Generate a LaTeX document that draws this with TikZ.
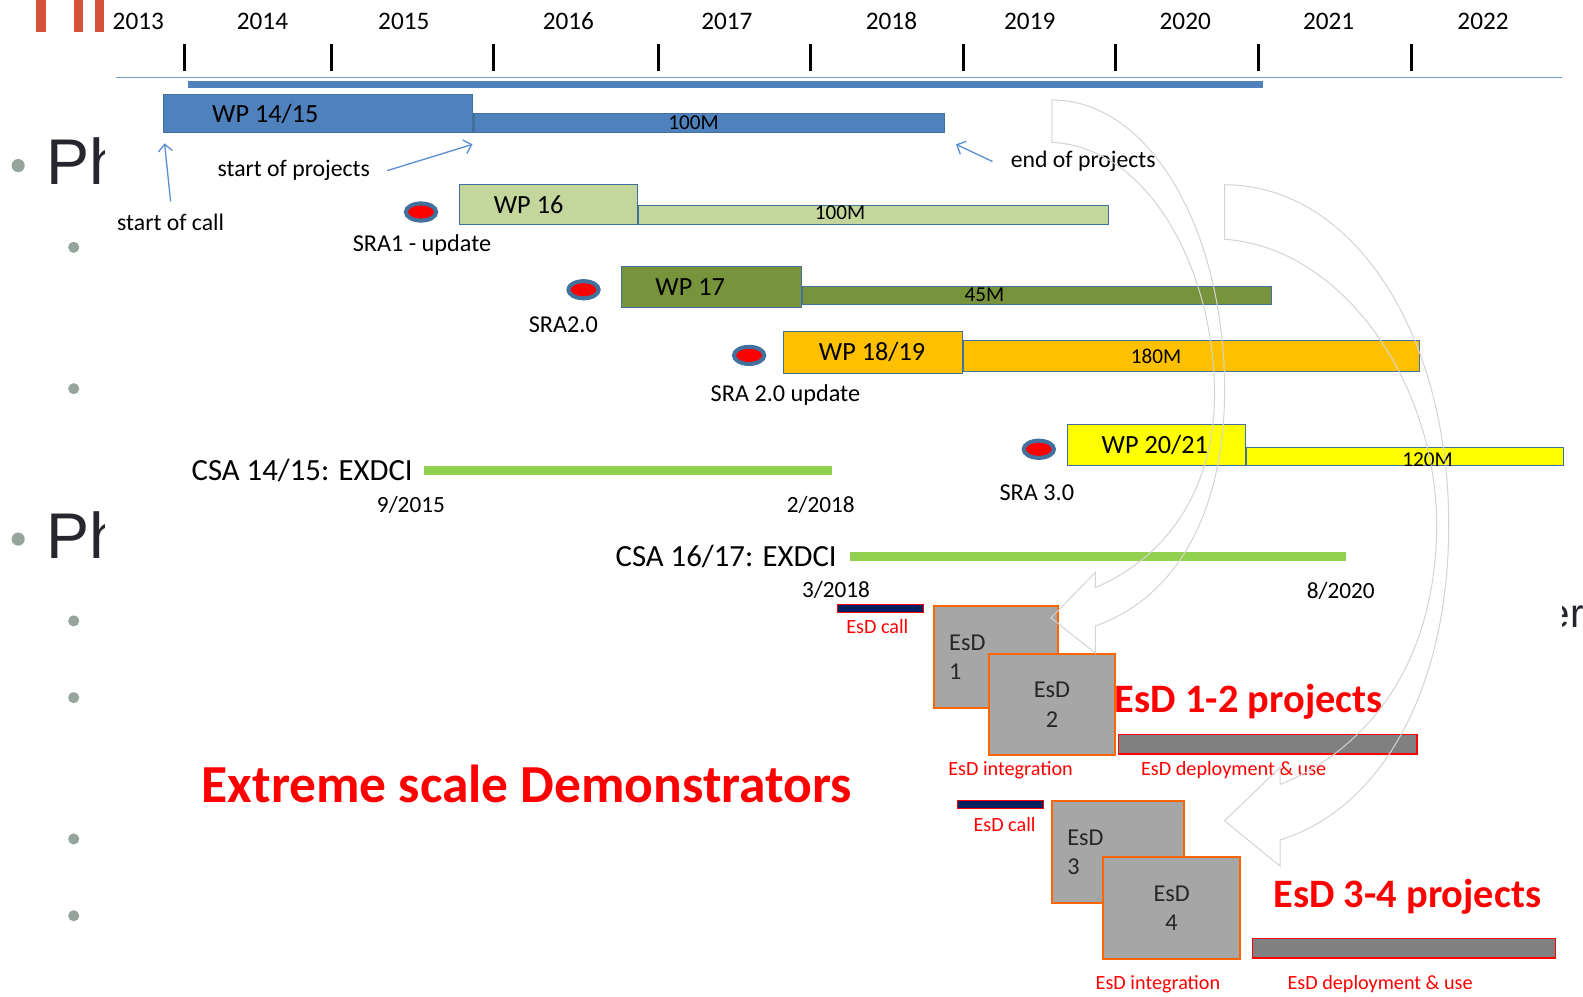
\documentclass[tikz,border=0pt]{standalone}
\usepackage{fontspec}
\setmainfont{Carlito}
\newfontfamily\slidefont{Liberation Sans}
\usetikzlibrary{arrows.meta,positioning,shapes.geometric}
\definecolor{wpblue}{HTML}{4F81BD}
\definecolor{wpedge}{HTML}{41719C}
\definecolor{wplime}{HTML}{C3D69B}
\definecolor{wpolive}{HTML}{77933C}
\definecolor{wporange}{HTML}{FFC000}
\definecolor{wpyellow}{HTML}{FFFF00}
\definecolor{csagreen}{HTML}{92D050}
\definecolor{esdorange}{HTML}{FF6600}
\definecolor{callnavy}{HTML}{002060}
\definecolor{bulletgrey}{HTML}{95A59B}
\definecolor{slidered}{HTML}{D5533B}
\definecolor{slideink}{HTML}{26262E}
\definecolor{notearrow}{HTML}{5B8FD3}
\definecolor{loopgrey}{HTML}{D4D4D4}
\newcommand{\pxfont}[1]{\fontsize{#1}{#1}\selectfont}
\tikzset{
  year/.style={font=\pxfont{25}, inner sep=0pt},
  tick/.style={line width=3pt},
  wp box/.style={draw=wpedge, line width=1pt, inner sep=0pt, anchor=north west},
  wp label/.style={font=\pxfont{26}, inner sep=0pt},
  cost bar/.style={draw=wpedge, line width=1pt, inner sep=0pt, anchor=south west},
  cost label/.style={font=\pxfont{21}, inner sep=0pt},
  sra dot/.style={ellipse, draw=wpedge, line width=4pt, fill=red, minimum width=30pt, minimum height=17pt, inner sep=0pt},
  note/.style={font=\pxfont{23.5}, inner sep=0pt},
  note arrow/.style={-{Straight Barb[length=7pt,width=14pt]}, notearrow, line width=1.3pt},
  csa label/.style={font=\pxfont{30.5}, inner sep=0pt, anchor=east},
  csa line/.style={csagreen, line width=9pt},
  date/.style={font=\pxfont{23}, inner sep=0pt},
  call bar/.style={draw=red, fill=callnavy, line width=1pt, anchor=north west, minimum width=85pt, minimum height=8pt, inner sep=0pt},
  esd box/.style={draw=esdorange, fill=black!35, line width=2pt, anchor=north west, inner sep=0pt},
  esd text/.style={font=\pxfont{24}, text=black!85, inner sep=0pt},
  use bar/.style={draw=red, fill=black!50, line width=1.5pt, anchor=north west, minimum height=19pt, inner sep=0pt},
  red label/.style={font=\pxfont{20}, text=red, inner sep=0pt},
  red title/.style={font=\bfseries\pxfont{40}, text=red, inner sep=0pt},
  slide text/.style={font=\slidefont\pxfont{64}, text=slideink, inner sep=0pt, anchor=base west},
  loop arrow/.style={loopgrey, line width=1pt},
}

\begin{document}
\begin{tikzpicture}[x=1pt, y=-1pt]
  \useasboundingbox (0,0) rectangle (1568,987);
  \fill[white] (0,0) rectangle (1568,987);

  % Slide behind the chart
  \foreach \x in {36,73,94} \fill[slidered] (\x,0) rectangle ++(9.5,32);
  \foreach \y in {164,534} \fill[bulletgrey] (18,\y) circle (6.5);
  \foreach \y in {245,385,615,691,831,907} \fill[bulletgrey] (73,\y) circle (5.5);
  \node[slide text] (ph1) at (46,183) {Ph};
  \node[slide text] (ph2) at (46,553) {Ph};
  \node[slide text, font=\slidefont\pxfont{40}] (er) at (1533,622) {er};
  \fill[white] (104,0) rectangle (1547,987);

  % Years and ticks
  \foreach \yr/\x in {2013/137,2014/260,2015/400,2016/563,2017/720,2018/883,2019/1020,2020/1174,2021/1316,2022/1469}
    \node[year] (y\yr) at (\x,21) {\yr};
  \foreach \x in {183,328,489,652,803,954,1105,1247,1398}
    \draw[tick] (\x,44) -- (\x,70);
  \draw[line width=1.5pt, wpblue!80] (115,77) -- (1547,77);
  \fill[wpblue] (186,80) rectangle (1251,87.5);

  % Work programmes
  \node[wp box, fill=wpblue, minimum width=307pt, minimum height=38pt] (wp1415) at (161,93) {};
  \node[wp label, right=49pt of wp1415.west] (l1415) {WP 14/15};
  \node[cost bar, fill=wpblue, minimum width=466pt, minimum height=19pt] (bar1415) at (wp1415.south east) {};
  \node[cost label] (c1415) at (687,122) {100M};

  \node[wp box, fill=wplime, minimum width=176pt, minimum height=40pt] (wp16) at (455,182) {};
  \node[wp label, right=34pt of wp16.west] (l16) {WP 16};
  \node[cost bar, fill=wplime, minimum width=465pt, minimum height=19pt] (bar16) at (wp16.south east) {};
  \node[cost label] (c16) at (832,211) {100M};

  \node[wp box, fill=wpolive, minimum width=178pt, minimum height=41pt] (wp17) at (615,263) {};
  \node[wp label, right=34pt of wp17.west] (l17) {WP 17};
  \node[cost bar, fill=wpolive, minimum width=465pt, minimum height=18pt] (bar17) at ([yshift=3pt]wp17.south east) {};
  \node[cost label] (c17) at (975,292) {45M};

  \node[wp box, fill=wporange, minimum width=177pt, minimum height=41pt] (wp1819) at (776,328) {};
  \node[wp label, right=35pt of wp1819.west] (l1819) {WP 18/19};
  \node[cost bar, fill=wporange, minimum width=452pt, minimum height=30pt] (bar1819) at ([yshift=2pt]wp1819.south east) {};
  \node[cost label] (c1819) at (1145,353) {180M};

  \node[wp box, fill=wpyellow, minimum width=176pt, minimum height=41pt] (wp2021) at (1057,420) {};
  \node[wp label, right=34pt of wp2021.west] (l2021) {WP 20/21};
  \node[cost bar, fill=wpyellow, minimum width=314pt, minimum height=18pt] (bar2021) at (wp2021.south east) {};
  \node[cost label] (c2021) at (1414,455) {120M};

  % SRA milestones
  \node[sra dot] (sra1) at (417,210) {};
  \node[note, font=\pxfont{24}] (sra1lbl) at (418,243) {SRA1 - update};
  \node[sra dot] (sra2) at (578,287) {};
  \node[note, font=\pxfont{24}] (sra2lbl) at (558,322) {SRA2.0};
  \node[sra dot] (sra2u) at (742,352) {};
  \node[note, font=\pxfont{24}] (sra2ulbl) at (778,391) {SRA 2.0 update};
  \node[sra dot] (sra3) at (1029,445) {};
  \node[note, font=\pxfont{24}] (sra3lbl) at (1027,488) {SRA 3.0};

  % Notes
  \node[note] (startcall) at (169,220) {start of call};
  \node[note] (startproj) at (291,169) {start of projects};
  \node[note] (endproj) at (1073,160) {end of projects};
  \coordinate (calltip) at ([shift={(2,10)}]wp1415.south west);
  \coordinate (projtip) at ([shift={(-1,11)}]wp1415.south east);
  \coordinate (endtip) at ([shift={(11,11)}]bar1415.south east);
  \draw[note arrow] ([yshift=12pt]startcall.north) -- (calltip);
  \draw[note arrow] ([xshift=17pt]startproj.east) -- (projtip);
  \draw[note arrow] ([xshift=-18pt]endproj.west) -- (endtip);

  % CSA
  \node[csa label] (csa1415) at (409,466) {CSA 14/15: EXDCI};
  \draw[csa line] ([xshift=11pt]csa1415.east) -- ++(404,0);
  \node[date] (d0915) at (407,500) {9/2015};
  \node[date] (d0218) at (813,500) {2/2018};
  \node[csa label] (csa1617) at (829,551) {CSA 16/17: EXDCI};
  \draw[csa line] ([xshift=13pt]csa1617.east) -- ++(491,0);
  \node[date] (d0318) at (828,584) {3/2018};
  \node[date] (d0820) at (1328,585) {8/2020};

  % EsD 1-2
  \node[call bar] (call12) at (829,598) {};
  \node[red label] (call12lbl) at (869,621) {EsD call};
  \node[esd box, minimum width=123pt, minimum height=101pt] (esd1) at (924,599) {};
  \node[esd text, align=left, anchor=west] (esd1lbl) at (940,651) {EsD\\[5pt]1};
  \node[esd box, minimum width=124pt, minimum height=100pt] (esd2) at (979,647) {};
  \node[esd text, align=center] (esd2lbl) at (esd2) {EsD\\[5pt]2};
  \node[red title] (title12) at (1237,695) {EsD 1-2 projects};
  \node[use bar, minimum width=296pt] (use12) at (1107,727) {};
  \node[red label] (int12) at (1001,763) {EsD integration};
  \node[red label] (use12lbl) at (1222,763) {EsD deployment \& use};

  \node[red title, font=\bfseries\pxfont{53}] (esdtitle) at (522,776) {Extreme scale Demonstrators};

  % EsD 3-4
  \node[call bar] (call34) at (948,792) {};
  \node[red label] (call34lbl) at (995,817) {EsD call};
  \node[esd box, minimum width=131pt, minimum height=101pt] (esd3) at (1041,792) {};
  \node[esd text, align=left, anchor=west] (esd3lbl) at (1057,844) {EsD\\[5pt]3};
  \node[esd box, minimum width=135pt, minimum height=101pt] (esd4) at (1092,848) {};
  \node[esd text, align=center] (esd4lbl) at (esd4) {EsD\\[5pt]4};
  \node[red title] (title34) at (1394,888) {EsD 3-4 projects};
  \node[use bar, minimum width=300pt] (use34) at (1240,929) {};
  \node[red label] (int34) at (1147,975) {EsD integration};
  \node[red label] (use34lbl) at (1367,975) {EsD deployment \& use};

  % Curved arrows
  \draw[loop arrow] (1042,99) -- (1042,141)
    .. controls (1140,146) and (1203,270) .. (1203,390)
    .. controls (1203,480) and (1160,550) .. (1085,582)
    -- (1085,567) -- (1041,612) -- (1085,647) -- (1085,620)
    .. controls (1170,590) and (1213,500) .. (1213,386)
    .. controls (1213,230) and (1140,99) .. (1042,99) -- cycle;
  \draw[loop arrow] (1213,183) -- (1213,237)
    .. controls (1330,245) and (1423,380) .. (1423,520)
    .. controls (1423,650) and (1360,740) .. (1268,777)
    -- (1268,760) -- (1213,813) -- (1268,858) -- (1268,832)
    .. controls (1370,800) and (1435,680) .. (1435,520)
    .. controls (1435,330) and (1340,183) .. (1213,183) -- cycle;
\end{tikzpicture}
\end{document}
